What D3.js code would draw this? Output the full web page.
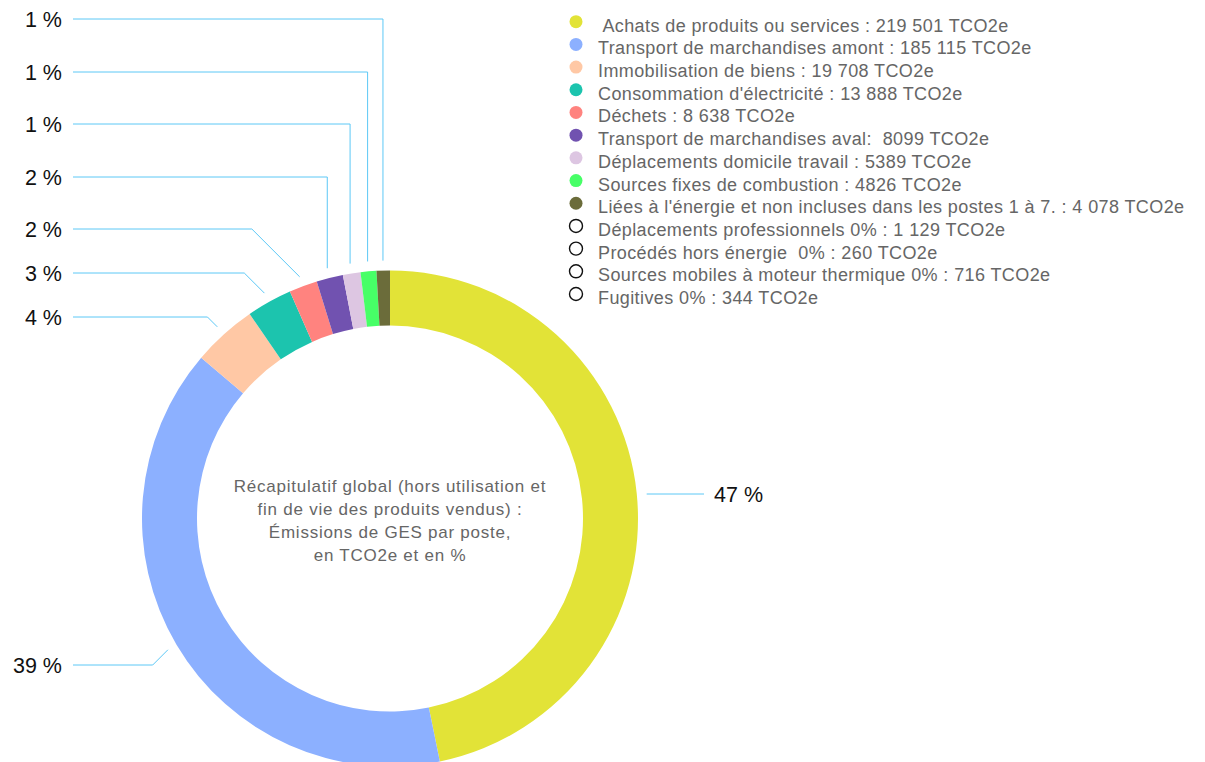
<!DOCTYPE html>
<html>
<head>
<meta charset="utf-8">
<script src="https://cdn.jsdelivr.net/npm/d3@7"></script>
<style>
  body { margin: 0; background: #fff; }
  svg { display: block; font-family: "Liberation Sans", Arial, sans-serif; }
</style>
</head>
<body>
<script>
// poste names, as written in the legend
var legendLabels = [
    " Achats de produits ou services : 219 501 TCO2e",
    "Transport de marchandises amont : 185 115 TCO2e",
    "Immobilisation de biens : 19 708 TCO2e",
    "Consommation d'électricité : 13 888 TCO2e",
    "Déchets : 8 638 TCO2e",
    "Transport de marchandises aval:  8099 TCO2e",
    "Déplacements domicile travail : 5389 TCO2e",
    "Sources fixes de combustion : 4826 TCO2e",
    "Liées à l'énergie et non incluses dans les postes 1 à 7. : 4 078 TCO2e",
    "Déplacements professionnels 0% : 1 129 TCO2e",
    "Procédés hors énergie  0% : 260 TCO2e",
    "Sources mobiles à moteur thermique 0% : 716 TCO2e",
    "Fugitives 0% : 344 TCO2e"
];

// emissions in TCO2e
var values = [219501, 185115, 19708, 13888, 8638, 8099, 5389, 4826, 4078, 1129, 260, 716, 344];

// postes switched off in the legend (hollow circle, no slice)
var hidden = [false, false, false, false, false, false, false, false, false, true, true, true, true];

var colors = ["#e2e337", "#8cb0ff", "#ffc8a5", "#1cc4ae", "#ff837f", "#7152b0",
    "#ddc6e2", "#47ff67", "#6b6c3a", "#ffffff", "#ffffff", "#ffffff", "#ffffff"];

var centerLines = [
    "Récapitulatif global (hors utilisation et",
    "fin de vie des produits vendus) :",
    "Émissions de GES par poste,",
    "en TCO2e et en %"
];

var svgWidth = 1205;
var svgHeight = 762;

var cx = 390, cy = 518.5;
var outerR = 248, innerR = 193;
var tickR = outerR + 10;
var labelR = outerR + 40;

var svg = d3.select("body")
    .append("svg")
    .attr("width", svgWidth)
    .attr("height", svgHeight);

var items = values.map(function (v, i) {
    return { index: i, value: v, color: colors[i], hidden: hidden[i] };
});
var shown = items.filter(d => !d.hidden);
var total = d3.sum(shown, d => d.value);

var pie = d3.pie()
    .sort(null)
    .value(d => d.value);

var arcs = pie(shown);

var arc = d3.arc()
    .innerRadius(innerR)
    .outerRadius(outerR);

var chartGroup = svg.append("g")
    .attr("transform", `translate(${cx}, ${cy})`);

chartGroup.selectAll("path.slice")
    .data(arcs)
    .enter()
    .append("path")
    .attr("class", "slice")
    .attr("d", arc)
    .attr("fill", d => d.data.color);

// centre title
var title = chartGroup.append("text")
    .attr("text-anchor", "middle")
    .attr("fill", "#666")
    .style("font-size", "17px")
    .style("letter-spacing", "0.75px");
title.selectAll("tspan")
    .data(centerLines)
    .enter()
    .append("tspan")
    .attr("x", 0)
    .attr("y", (d, i) => -26.5 + i * 23)
    .text(d => d);

// label positions
var labels = arcs.map(function (a) {
    var mid = (a.startAngle + a.endAngle) / 2;
    return {
        mid: mid,
        px: cx + tickR * Math.sin(mid),
        py: cy - tickR * Math.cos(mid),
        natural: cy - labelR * Math.cos(mid),
        right: Math.sin(mid) > 0,
        text: Math.round(a.data.value / total * 100) + " %"
    };
});

// upper-left small slices: stacked from the top, then pushed apart
var upperLeft = labels.filter(d => !d.right && Math.cos(d.mid) > 0)
    .sort((a, b) => a.py - b.py);
var prev = -Infinity;
upperLeft.forEach(function (d, i) {
    var y = Math.min(d.natural, 19 + i * 52.5);
    d.ly = Math.max(y, prev + 44);
    prev = d.ly;
});

labels.forEach(function (d) {
    if (d.ly === undefined) {
        d.ly = d.right ? d.py + 2 : d.natural;
    }
    d.ly = Math.round(d.ly);
    var dy = d.py - d.ly;
    var ex = (d.right || dy > 60) ? d.px : d.px - Math.abs(dy);
    d.points = d.right
        ? [[d.px, d.ly], [704, d.ly]]
        : [[d.px, d.py], [ex, d.ly], [73, d.ly]];
    d.tx = d.right ? 714 : 62;
});

svg.selectAll("path.tick")
    .data(labels)
    .enter()
    .append("path")
    .attr("class", "tick")
    .attr("d", d => d3.line()(d.points))
    .attr("fill", "none")
    .attr("stroke", "#5cc8f6")
    .attr("stroke-width", 1);

svg.selectAll("text.pct")
    .data(labels)
    .enter()
    .append("text")
    .attr("class", "pct")
    .attr("x", d => d.tx)
    .attr("y", d => d.ly + 8)
    .attr("text-anchor", d => d.right ? "start" : "end")
    .attr("fill", "#111")
    .style("font-size", "21.5px")
    .text(d => d.text);

// legend
var legendY = d3.scaleLinear()
    .domain([0, legendLabels.length - 1])
    .range([21.7, 294]);

var rows = svg.append("g")
    .selectAll("g.row")
    .data(items)
    .enter()
    .append("g")
    .attr("class", "row")
    .attr("transform", d => `translate(576, ${legendY(d.index)})`);

rows.append("circle")
    .attr("r", 6.5)
    .attr("fill", d => d.hidden ? "none" : d.color)
    .attr("stroke", d => d.hidden ? "#111" : "none")
    .attr("stroke-width", 1.4);

rows.append("text")
    .attr("x", 22)
    .attr("y", 10)
    .attr("fill", "#666")
    .style("font-size", "18px")
    .style("letter-spacing", "0.4px")
    .style("white-space", "pre")
    .text(d => legendLabels[d.index]);
</script>
</body>
</html>
